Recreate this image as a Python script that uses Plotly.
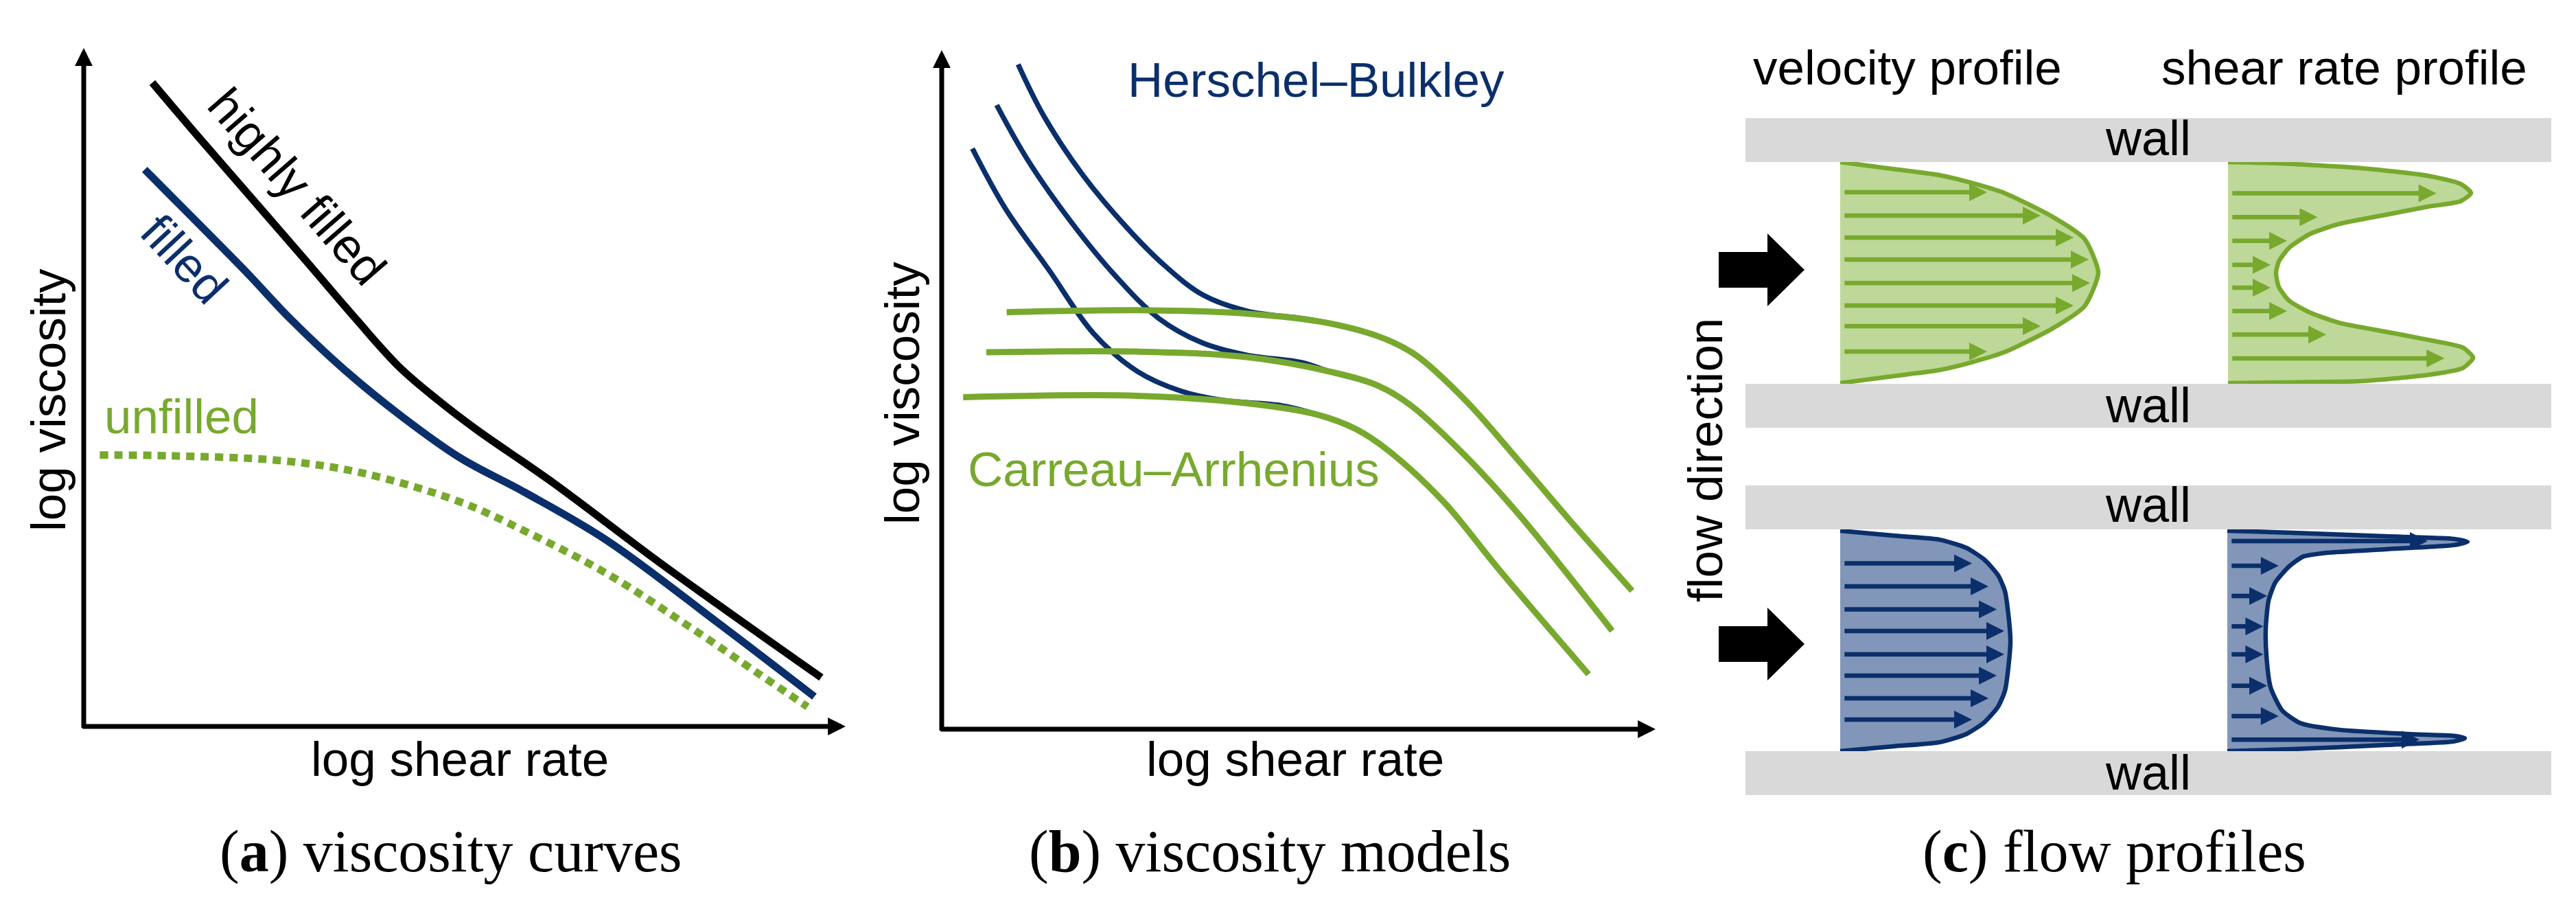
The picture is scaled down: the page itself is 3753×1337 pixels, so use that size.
import plotly.graph_objects as go

W, H = 3753, 1337

NAVY = '#0b2f6b'
GREEN = '#78a92e'
GREEN_FILL = '#bdd898'
NAVY_FILL = '#8196b8'
WALL = '#d9d9d9'
SANS = 'Liberation Sans, Arial, sans-serif'
SERIF = 'Liberation Serif, Times New Roman, serif'

# ---- (a) viscosity curves, sketch units (log shear rate, log viscosity) 0..10
a_highly_x = [0.90, 1.49, 2.21, 2.92, 3.57, 4.14, 4.65, 5.15, 6.15, 7.59, 9.68]
a_highly_y = [9.49, 8.71, 7.78, 6.86, 6.01, 5.30, 4.81, 4.38, 3.60, 2.39, 0.72]
a_filled_x = [0.80, 1.49, 2.14, 2.71, 3.42, 4.14, 4.94, 5.79, 6.87, 8.31, 9.59]
a_filled_y = [8.21, 7.43, 6.69, 6.01, 5.26, 4.60, 3.96, 3.45, 2.74, 1.54, 0.44]
a_unfilled_x = [0.21, 1.13, 2.57, 3.64, 4.94, 5.79, 6.87, 7.95, 8.88, 9.50]
a_unfilled_y = [4.00, 3.99, 3.92, 3.74, 3.31, 2.88, 2.25, 1.47, 0.76, 0.29]

# ---- (b) viscosity models
hb_x = [
    [1.07, 1.43, 1.97, 2.59, 3.12, 3.65, 4.27, 5.04, 5.42, 6.18, 6.64, 7.34, 8.11, 8.87, 9.67],
    [0.77, 1.20, 1.82, 2.43, 3.04, 3.65, 4.27, 5.04, 5.42, 6.11, 6.57, 7.34, 8.11, 9.39],
    [0.43, 0.89, 1.51, 2.125, 2.74, 3.35, 3.96, 4.73, 5.27, 5.80, 6.26, 7.03, 7.80, 9.06],
]
hb_y = [
    [9.79, 9.03, 8.17, 7.39, 6.83, 6.40, 6.16, 6.05, 5.98, 5.76, 5.51, 4.84, 3.92, 2.99, 2.04],
    [9.19, 8.39, 7.46, 6.68, 6.05, 5.69, 5.51, 5.40, 5.27, 5.06, 4.77, 4.02, 3.13, 1.45],
    [8.55, 7.67, 6.75, 5.83, 5.27, 4.98, 4.84, 4.77, 4.63, 4.42, 4.10, 3.35, 2.36, 0.81],
]
ca_x = [
    [0.91, 2.74, 4.27, 5.42, 6.18, 6.64, 7.34, 8.11, 8.87, 9.67],
    [0.625, 2.74, 4.27, 5.42, 6.11, 6.57, 7.34, 8.11, 9.39],
    [0.30, 2.74, 4.27, 5.27, 5.80, 6.26, 7.03, 7.80, 9.06],
]
ca_y = [
    [6.14, 6.17, 6.12, 5.98, 5.76, 5.51, 4.84, 3.92, 2.99, 2.04],
    [5.55, 5.56, 5.48, 5.27, 5.06, 4.77, 4.02, 3.13, 1.45],
    [4.89, 4.91, 4.80, 4.63, 4.42, 4.10, 3.35, 2.36, 0.81],
]

# ---- (c) flow profiles: position across channel (0 = upper wall) vs. magnitude
gv_pos = [0, 0.031, 0.059, 0.093, 0.141, 0.245, 0.348, 0.5, 0.652, 0.755, 0.859, 0.907, 0.941, 0.969, 1.0]
gv_val = [0, 0.19, 0.36, 0.475, 0.60, 0.77, 0.89, 0.94, 0.89, 0.77, 0.60, 0.475, 0.36, 0.19, 0]
gv_arrow_pos = [0.137, 0.242, 0.342, 0.441, 0.547, 0.649, 0.742, 0.857]
gv_arrow_len = [0.535, 0.73, 0.85, 0.905, 0.91, 0.85, 0.73, 0.535]

gs_pos = [0, 0.006, 0.028, 0.062, 0.099, 0.140, 0.177, 0.202, 0.239, 0.280, 0.326, 0.388, 0.450,
          0.503, 0.565, 0.627, 0.680, 0.727, 0.767, 0.804, 0.839, 0.885, 0.932, 0.963, 0.991,
          0.997, 1.0]
gs_val = [0, 0.19, 0.4875, 0.7275, 0.8475, 0.885, 0.8475, 0.7275, 0.5725, 0.405, 0.2975, 0.2225,
          0.185, 0.175, 0.185, 0.2225, 0.2975, 0.405, 0.5725, 0.7275, 0.855, 0.8925, 0.855,
          0.7275, 0.4875, 0.19, 0]
gs_arrow_pos = [0.141, 0.249, 0.356, 0.465, 0.568, 0.674, 0.780, 0.888]
gs_arrow_len = [0.759, 0.326, 0.215, 0.155, 0.155, 0.215, 0.3575, 0.788]

bv_pos = [0, 0.022, 0.040, 0.078, 0.131, 0.202, 0.274, 0.38, 0.5, 0.62, 0.726, 0.798, 0.869,
          0.922, 0.960, 0.978, 1.0]
bv_val = [0, 0.1925, 0.36, 0.46, 0.525, 0.575, 0.60, 0.6125, 0.62, 0.6125, 0.60, 0.575, 0.525,
          0.46, 0.36, 0.1925, 0]
bv_arrow_pos = [0.148, 0.252, 0.357, 0.455, 0.561, 0.657, 0.760, 0.857]
bv_arrow_len = [0.48, 0.54, 0.57, 0.5975, 0.5975, 0.57, 0.54, 0.48]

bs_pos = [0, 0.009, 0.025, 0.037, 0.050, 0.065, 0.084, 0.10, 0.118, 0.162, 0.234, 0.318, 0.442,
          0.567, 0.710, 0.816, 0.872, 0.903, 0.922, 0.931, 0.941, 0.956, 0.972, 0.991, 1.0]
bs_val = [0, 0.24, 0.575, 0.825, 0.875, 0.825, 0.575, 0.365, 0.275, 0.225, 0.175, 0.15, 0.14,
          0.1425, 0.1575, 0.20, 0.265, 0.4075, 0.6575, 0.825, 0.865, 0.825, 0.575, 0.24, 0]
bs_arrow_pos = [0.047, 0.159, 0.296, 0.434, 0.561, 0.703, 0.841, 0.948]
bs_arrow_len = [0.73, 0.187, 0.145, 0.131, 0.131, 0.145, 0.187, 0.70]


def xdom(p0, p1):
    return [p0 / W, p1 / W]


def ydom(top, bottom):
    return [1 - bottom / H, 1 - top / H]


fig = go.Figure()

# panel a
fig.add_trace(go.Scatter(x=a_unfilled_x, y=a_unfilled_y, mode='lines', line_shape='spline',
                         line=dict(color=GREEN, width=11, dash='12px,9px')))
fig.add_trace(go.Scatter(x=a_filled_x, y=a_filled_y, mode='lines', line_shape='spline',
                         line=dict(color=NAVY, width=11)))
fig.add_trace(go.Scatter(x=a_highly_x, y=a_highly_y, mode='lines', line_shape='spline',
                         line=dict(color='black', width=11)))

# panel b
for xs, ys in zip(hb_x, hb_y):
    fig.add_trace(go.Scatter(x=xs, y=ys, xaxis='x2', yaxis='y2', mode='lines',
                             line_shape='spline', line=dict(color=NAVY, width=7.5)))
for xs, ys in zip(ca_x, ca_y):
    fig.add_trace(go.Scatter(x=xs, y=ys, xaxis='x2', yaxis='y2', mode='lines',
                             line_shape='spline', line=dict(color=GREEN, width=9)))

# panel c profiles
profiles = [
    ('3', gv_pos, gv_val, GREEN, GREEN_FILL),
    ('4', gs_pos, gs_val, GREEN, GREEN_FILL),
    ('5', bv_pos, bv_val, NAVY, NAVY_FILL),
    ('6', bs_pos, bs_val, NAVY, NAVY_FILL),
]
for k, pos, val, lc, fc in profiles:
    fig.add_trace(go.Scatter(x=val, y=pos, xaxis='x' + k, yaxis='y' + k, mode='lines',
                             line_shape='spline', line=dict(color=lc, width=6.5, smoothing=0.6),
                             fill='toself', fillcolor=fc))


def arrow(ref, x0, y0, x1, y1, color, width, size):
    return dict(xref='x' + ref, yref='y' + ref, axref='x' + ref, ayref='y' + ref,
                x=x1, y=y1, ax=x0, ay=y0, text='', showarrow=True, arrowhead=2,
                arrowwidth=width, arrowsize=size, arrowcolor=color, standoff=0)


def label(x, y, text, color='black', size=71, angle=0, family=SANS):
    return dict(xref='x7', yref='y7', x=x, y=y, text=text, showarrow=False,
                font=dict(family=family, size=size, color=color), textangle=angle,
                xanchor='center', yanchor='middle')


ann = []
# axis arrows for panels a and b
for ref in ['', '2']:
    ann.append(arrow(ref, -0.03, 0, 10, 0, 'black', 7, 0.74))
    ann.append(arrow(ref, 0, -0.035, 0, 10, 'black', 7, 0.74))

arrow_sets = [
    ('3', gv_arrow_pos, gv_arrow_len, GREEN),
    ('4', gs_arrow_pos, gs_arrow_len, GREEN),
    ('5', bv_arrow_pos, bv_arrow_len, NAVY),
    ('6', bs_arrow_pos, bs_arrow_len, NAVY),
]
for k, pos, lens, c in arrow_sets:
    for p, ln in zip(pos, lens):
        ann.append(arrow(k, 0.012, p, ln, p, c, 6.5, 0.8))

ann += [
    label(425, 263, 'highly filled', angle=49),
    label(261, 369, 'filled', color=NAVY, angle=47),
    label(256, 598, 'unfilled', color=GREEN),
    label(62, 575, 'log viscosity', angle=-90),
    label(662, 1097, 'log shear rate'),
    label(1909, 108, 'Herschel–Bulkley', color=NAVY),
    label(1702, 675, 'Carreau–Arrhenius', color=GREEN),
    label(1306, 565, 'log viscosity', angle=-90),
    label(1879, 1097, 'log shear rate'),
    label(2771, 90, 'velocity profile'),
    label(3407, 90, 'shear rate profile'),
    label(2476, 662, 'flow direction', angle=-90),
    label(649, 1232, '(<b>a</b>) viscosity curves', size=86, family=SERIF),
    label(1842, 1232, '(<b>b</b>) viscosity models', size=86, family=SERIF),
    label(3072, 1232, '(<b>c</b>) flow profiles', size=86, family=SERIF),
]

wall_tops = [164, 551, 699, 1086]
wall_text_y = [193, 582, 727, 1117]
shapes = []
for t, ty in zip(wall_tops, wall_text_y):
    shapes.append(dict(type='rect', xref='x7', yref='y7', x0=2535, x1=3709, y0=t, y1=t + 64,
                       fillcolor=WALL, line=dict(width=0), layer='below'))
    ann.append(label(3121, ty, 'wall', size=72))

# big flow arrows
for c in [385, 930]:
    path = (f'M2496,{c - 26} L2567,{c - 26} L2567,{c - 53} L2621,{c} L2567,{c + 53} '
            f'L2567,{c + 26} L2496,{c + 26} Z')
    shapes.append(dict(type='path', xref='x7', yref='y7', path=path,
                       fillcolor='black', line=dict(width=0)))

hidden = dict(visible=False, fixedrange=True)
layout = dict(
    width=W, height=H, margin=dict(l=0, r=0, t=0, b=0),
    paper_bgcolor='white', plot_bgcolor='rgba(0,0,0,0)', showlegend=False,
    xaxis=dict(hidden, domain=xdom(114, 1224), range=[0, 10]),
    yaxis=dict(hidden, domain=ydom(62, 1050), range=[0, 10]),
    xaxis2=dict(hidden, domain=xdom(1364, 2404), range=[0, 10]),
    yaxis2=dict(hidden, domain=ydom(65, 1054), range=[0, 10]),
    xaxis7=dict(hidden, domain=[0, 1], range=[0, W]),
    yaxis7=dict(hidden, domain=[0, 1], range=[H, 0]),
    annotations=ann, shapes=shapes,
)
# profile axes: 0..1 across 400 px, padded so outlines are not clipped
prof_box = {'3': (2673, 228, 550), '4': (3238, 228, 550),
            '5': (2673, 765, 1086), '6': (3237, 765, 1086)}
pad = 0.03
for k, (left, top, bottom) in prof_box.items():
    h = bottom - top
    layout['xaxis' + k] = dict(hidden, domain=xdom(left - pad * 400, left + (1 + pad) * 400),
                               range=[-pad, 1 + pad])
    layout['yaxis' + k] = dict(hidden, domain=ydom(top - pad * h, bottom + pad * h),
                               range=[1 + pad, -pad])
fig.update_layout(**layout)
# dummy trace so the pixel overlay axes exist
fig.add_trace(go.Scatter(x=[0], y=[0], xaxis='x7', yaxis='y7', mode='markers',
                         marker=dict(opacity=0), hoverinfo='skip'))

fig.write_html('out.html')
